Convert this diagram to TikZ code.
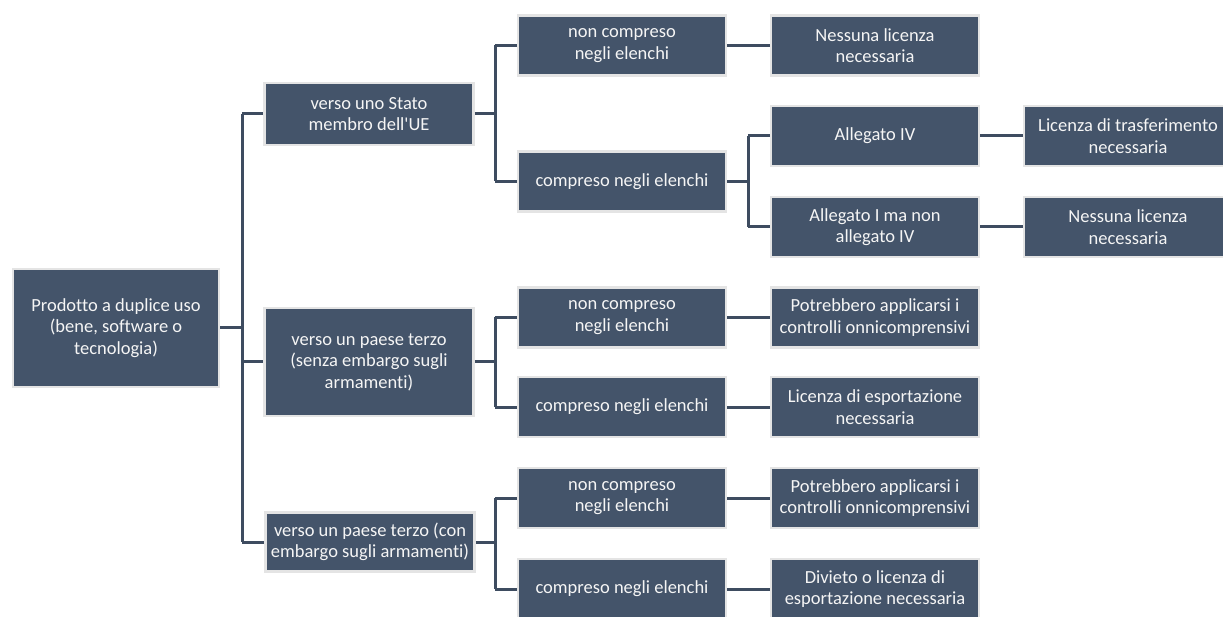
\documentclass[tikz,border=0pt]{standalone}
\usepackage{fontspec}
\setmainfont{Carlito}[Ligatures={TeXOff,NoCommon}]
\definecolor{boxfill}{RGB}{68,84,106}
\definecolor{boxedge}{RGB}{228,228,228}
\definecolor{linkcol}{RGB}{62,76,96}
\begin{document}
\begin{tikzpicture}[x=1pt,y=-1pt,
  box/.style={fill=boxfill, draw=boxedge, line width=2.5pt, text={rgb,255:red,245;green,245;blue,245},
    align=center, inner sep=2pt, minimum height=60pt,
    font=\fontsize{18.5}{21.5}\selectfont},
  lvl0/.style={box, minimum width=206pt, minimum height=118pt},
  lvl1/.style={box, minimum width=209pt},
  lvl2/.style={box, minimum width=208pt},
  link/.style={draw=linkcol, line width=3pt}
]
\clip (0,0) rectangle (1223,617);
\fill[white] (0,0) rectangle (1223,617);

% nodes
\node[lvl0] (root) at (116,328) {Prodotto a duplice uso\\(bene, software o\\tecnologia)};

\node[lvl1, minimum height=62pt] (b1) at (369,114) {verso uno Stato\\membro dell'UE};
\node[lvl1, minimum height=108pt] (b2) at (369,362) {verso un paese terzo\\(senza embargo sugli\\armamenti)};
\node[lvl1, minimum height=59pt] (b3) at (370,542) {verso un paese terzo (con\\embargo sugli armamenti)};

\node[lvl2] (c1) at (622,45.5) {non compreso\\negli elenchi};
\node[lvl2] (c2) at (622,181.5) {compreso negli elenchi};
\node[lvl2] (c3) at (622,317.5) {non compreso\\negli elenchi};
\node[lvl2] (c4) at (622,407) {compreso negli elenchi};
\node[lvl2] (c5) at (622,498) {non compreso\\negli elenchi};
\node[lvl2] (c6) at (622,589) {compreso negli elenchi};

\node[lvl2] (d1) at (875,45.5) {Nessuna licenza\\necessaria};
\node[lvl2] (d2) at (875,136) {Allegato IV};
\node[lvl2] (d3) at (875,227) {Allegato I ma non\\allegato IV};
\node[lvl2] (d4) at (875,317.5) {Potrebbero applicarsi i\\controlli onnicomprensivi};
\node[lvl2] (d5) at (875,407) {Licenza di esportazione\\necessaria};
\node[lvl2] (d6) at (875,498) {Potrebbero applicarsi i\\controlli onnicomprensivi};
\node[lvl2] (d7) at (875,589) {Divieto o licenza di\\esportazione necessaria};

\node[lvl2] (e1) at (1128,136) {Licenza di trasferimento\\necessaria};
\node[lvl2] (e2) at (1128,227) {Nessuna licenza\\necessaria};

% trunk coordinates
\coordinate (t1) at (242,0);
\coordinate (t2) at (495,0);
\coordinate (t3) at (748,0);

% level 0 -> 1
\draw[link] (root.east) -- (root.east -| t1);
\draw[link] (t1 |- b1.west) -- (t1 |- b3.west);
\draw[link] (t1 |- b1.west) -- (b1.west);
\draw[link] (t1 |- b2.west) -- (b2.west);
\draw[link] (t1 |- b3.west) -- (b3.west);

% b1 -> c1, c2
\draw[link] (b1.east) -- (b1.east -| t2);
\draw[link] (t2 |- c1.west) -- (t2 |- c2.west);
\draw[link] (t2 |- c1.west) -- (c1.west);
\draw[link] (t2 |- c2.west) -- (c2.west);

% b2 -> c3, c4
\draw[link] (b2.east) -- (b2.east -| t2);
\draw[link] (t2 |- c3.west) -- (t2 |- c4.west);
\draw[link] (t2 |- c3.west) -- (c3.west);
\draw[link] (t2 |- c4.west) -- (c4.west);

% b3 -> c5, c6
\draw[link] (b3.east) -- (b3.east -| t2);
\draw[link] (t2 |- c5.west) -- (t2 |- c6.west);
\draw[link] (t2 |- c5.west) -- (c5.west);
\draw[link] (t2 |- c6.west) -- (c6.west);

% c2 -> d2, d3
\draw[link] (c2.east) -- (c2.east -| t3);
\draw[link] (t3 |- d2.west) -- (t3 |- d3.west);
\draw[link] (t3 |- d2.west) -- (d2.west);
\draw[link] (t3 |- d3.west) -- (d3.west);

% straight links
\draw[link] (c1.east) -- (d1.west);
\draw[link] (c3.east) -- (d4.west);
\draw[link] (c4.east) -- (d5.west);
\draw[link] (c5.east) -- (d6.west);
\draw[link] (c6.east) -- (d7.west);
\draw[link] (d2.east) -- (e1.west);
\draw[link] (d3.east) -- (e2.west);
\end{tikzpicture}
\end{document}
